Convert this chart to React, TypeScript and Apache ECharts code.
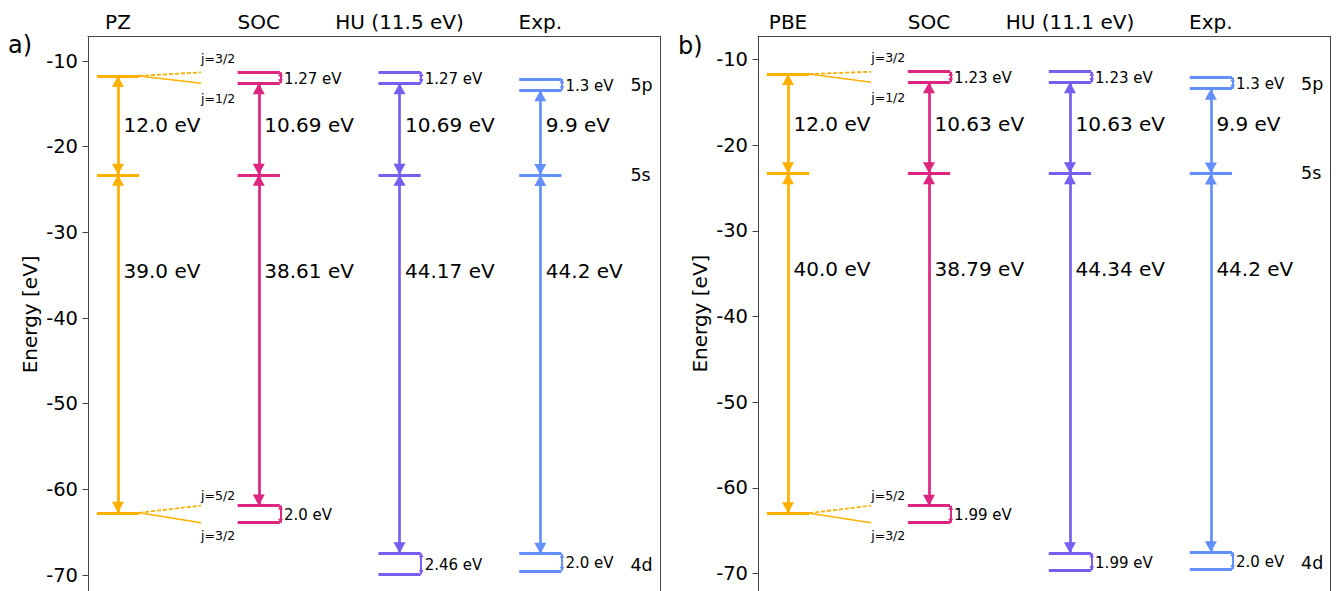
import React, { useEffect, useRef } from "react";
import * as echarts from "echarts";

// ---------- data ----------
const COLUMNS_A = ["PZ", "SOC", "HU (11.5 eV)", "Exp."];
const COLUMNS_B = ["PBE", "SOC", "HU (11.1 eV)", "Exp."];

// DFT without SOC: [5p, 5s, 4d]
const DFT_A = [-11.74, -23.28, -62.73];
const DFT_B = [-11.7, -23.28, -62.95];
// [5p j=3/2, 5p j=1/2, 5s, 4d j=5/2, 4d j=3/2]
const SOC_A = [-11.32, -12.59, -23.28, -61.89, -63.89];
const HU_A = [-11.32, -12.59, -23.28, -67.45, -69.91];
const SOC_B = [-11.42, -12.65, -23.28, -62.07, -64.06];
const HU_B = [-11.42, -12.65, -23.28, -67.62, -69.61];
const EXP = [-12.1, -13.4, -23.3, -67.5, -69.5];

const GAP_LABELS_A = [["12.0 eV", "39.0 eV"], ["10.69 eV", "38.61 eV"], ["10.69 eV", "44.17 eV"], ["9.9 eV", "44.2 eV"]];
const GAP_LABELS_B = [["12.0 eV", "40.0 eV"], ["10.63 eV", "38.79 eV"], ["10.63 eV", "44.34 eV"], ["9.9 eV", "44.2 eV"]];
const SPLIT_LABELS_A = [["1.27 eV", "2.0 eV"], ["1.27 eV", "2.46 eV"], ["1.3 eV", "2.0 eV"]];
const SPLIT_LABELS_B = [["1.23 eV", "1.99 eV"], ["1.23 eV", "1.99 eV"], ["1.3 eV", "2.0 eV"]];
const J_LABELS = ["j=3/2", "j=1/2", "j=5/2", "j=3/2"];
const ORBITALS = ["5p", "5s", "4d"];
const ORBITAL_Y = [-12.8, -23.25, -68.8];
const Y_TICKS = [-70, -60, -50, -40, -30, -20, -10];
const PANEL_LETTERS = ["a)", "b)"];

// ---------- style / layout ----------
const COLORS = ["#FFB000", "#DC267F", "#785EF0", "#648FFF"];
const FONT = "DejaVu Sans";
const HALF = 0.15;
const SPLIT_END = 0.59;
const GAP_LABEL_Y = [-17.5, -34.5];
const SPINE = "#444";
const TXT = "#000";

function buildPanel(gi: number, dft: number[], soc: number[], hu: number[], gapLabels: string[][], splitLabels: string[][]) {
  const cols = [dft, soc, hu, EXP];
  const ax = { xAxisIndex: gi, yAxisIndex: gi * 2 };
  const series: any[] = [];
  const lineSeries = (segs: number[][][], color: string, width: number, type: any = "solid", z = 2) => ({
    type: "lines",
    coordinateSystem: "cartesian2d",
    ...ax,
    polyline: false,
    silent: true,
    z,
    symbol: "none",
    lineStyle: { color, width, type, opacity: 1, cap: "butt" },
    data: segs.map((c) => ({ coords: c })),
  });
  const headSeries = (pts: number[][], color: string, size: number[], up: boolean) => ({
    type: "scatter",
    ...ax,
    symbol: "triangle",
    symbolSize: size,
    symbolRotate: up ? 0 : 180,
    symbolOffset: [0, up ? size[1] / 2 : -size[1] / 2],
    itemStyle: { color, opacity: 1 },
    silent: true,
    clip: false,
    z: 4,
    data: pts,
  });
  const textSeries = (items: any[], fontSize: number) => ({
    type: "scatter",
    ...ax,
    symbolSize: 0,
    silent: true,
    clip: false,
    z: 5,
    label: {
      show: true,
      formatter: "{b}",
      fontSize,
      fontFamily: FONT,
      color: TXT,
      opacity: 1,
      align: "left",
      verticalAlign: "middle",
    },
    data: items.map(([name, x, y, pos]) => ({ name, value: [x, y], label: { position: pos, color: TXT } })),
  });

  cols.forEach((lv, c) => {
    const color = COLORS[c];
    series.push(lineSeries(lv.map((e) => [[c - HALF, e], [c + HALF, e]]), color, 3));
    const [top, mid, bot] = c === 0 ? [lv[0], lv[1], lv[2]] : [lv[1], lv[2], lv[3]];
    series.push(lineSeries([[[c, top], [c, mid]], [[c, mid], [c, bot]]], color, 2.7));
    series.push(headSeries([[c, top], [c, mid]], color, [12, 11], true));
    series.push(headSeries([[c, mid], [c, bot]], color, [12, 11], false));
    if (c > 0) {
      const bx = c + HALF + 0.004;
      series.push(lineSeries([[[bx, lv[0]], [bx, lv[1]]], [[bx, lv[3]], [bx, lv[4]]]], color, 2));
      series.push(headSeries([[bx, lv[0]], [bx, lv[3]]], color, [5, 4], true));
      series.push(headSeries([[bx, lv[1]], [bx, lv[4]]], color, [5, 4], false));
    }
  });

  // splitting lines from the non-SOC column
  series.push(
    lineSeries(
      [
        [[HALF, dft[0]], [SPLIT_END, soc[0]]],
        [[HALF, dft[2]], [SPLIT_END, soc[3]]],
      ],
      COLORS[0],
      1.8,
      [4, 2]
    )
  );
  series.push(
    lineSeries(
      [
        [[HALF, dft[0]], [SPLIT_END, soc[1]]],
        [[HALF, dft[2]], [SPLIT_END, soc[4]]],
      ],
      COLORS[0],
      1.5
    )
  );

  // gap labels
  const gapItems: any[] = [];
  cols.forEach((_, c) => {
    gapItems.push([gapLabels[c][0], c, GAP_LABEL_Y[0], [5.5, 0]]);
    gapItems.push([gapLabels[c][1], c, GAP_LABEL_Y[1], [5.5, 0]]);
  });
  series.push(textSeries(gapItems, 20));

  // split labels
  const splitItems: any[] = [];
  for (let c = 1; c < 4; c++) {
    const lv = cols[c];
    splitItems.push([splitLabels[c - 1][0], c + HALF, (lv[0] + lv[1]) / 2, [4, 1]]);
    splitItems.push([splitLabels[c - 1][1], c + HALF, (lv[3] + lv[4]) / 2, [4, 1]]);
  }
  series.push(textSeries(splitItems, 15));

  // j labels
  series.push(
    textSeries(
      [
        [J_LABELS[0], SPLIT_END, soc[0], [0, -14]],
        [J_LABELS[1], SPLIT_END, soc[1], [0, 15]],
        [J_LABELS[2], SPLIT_END, soc[3], [0, -10]],
        [J_LABELS[3], SPLIT_END, soc[4], [0, 13]],
      ],
      12.5
    )
  );

  // orbital labels
  series.push(textSeries(ORBITALS.map((o, i) => [o, 3.64, ORBITAL_Y[i], [0, 0]]), 17.5));
  return series;
}

const GRIDS = [
  { left: 88, top: 36.5, width: 572, height: 555.7, max: -7.14, names: COLUMNS_A },
  { left: 758, top: 36.5, width: 572.7, height: 554.2, max: -7.31, names: COLUMNS_B },
];

function buildOption() {
  const grid = GRIDS.map((g) => ({ left: g.left, top: g.top, width: g.width, height: g.height, containLabel: false }));
  const xAxis = GRIDS.map((g, i) => ({
    type: "value",
    gridIndex: i,
    position: "top",
    min: -0.213,
    max: 3.85,
    axisLine: { show: true, onZero: false, lineStyle: { color: SPINE, width: 1 } },
    axisTick: { show: false },
    splitLine: { show: false },
    axisLabel: {
      show: true,
      customValues: [0, 1, 2, 3],
      formatter: (v: number) => g.names[Math.round(v)],
      fontSize: 20,
      fontFamily: FONT,
      color: TXT,
      margin: 5,
    },
  }));
  const yAxis: any[] = [];
  GRIDS.forEach((g, i) => {
    yAxis.push({
      type: "value",
      gridIndex: i,
      position: "left",
      min: -72,
      max: g.max,
      axisLine: { show: true, onZero: false, lineStyle: { color: SPINE, width: 1 } },
      axisTick: { show: true, length: 5.5, customValues: Y_TICKS, lineStyle: { color: SPINE, width: 1 } },
      axisLabel: { show: true, customValues: Y_TICKS, fontSize: 19.5, fontFamily: FONT, color: TXT, margin: 10 },
      splitLine: { show: false },
      name: "Energy [eV]",
      nameLocation: "middle",
      nameGap: 48,
      nameTextStyle: { fontSize: 20, fontFamily: FONT, color: TXT },
    });
    yAxis.push({
      type: "value",
      gridIndex: i,
      position: "right",
      min: -72,
      max: g.max,
      axisLine: { show: true, onZero: false, lineStyle: { color: SPINE, width: 1 } },
      axisTick: { show: false },
      axisLabel: { show: false },
      splitLine: { show: false },
    });
  });
  const series = [
    ...buildPanel(0, DFT_A, SOC_A, HU_A, GAP_LABELS_A, SPLIT_LABELS_A),
    ...buildPanel(1, DFT_B, SOC_B, HU_B, GAP_LABELS_B, SPLIT_LABELS_B),
  ];
  const graphic = [
    { type: "text", x: 8, y: 45, style: { text: PANEL_LETTERS[0], fontSize: 24, fontFamily: FONT, fill: TXT, verticalAlign: "middle" } },
    { type: "text", x: 678, y: 46, style: { text: PANEL_LETTERS[1], fontSize: 24, fontFamily: FONT, fill: TXT, verticalAlign: "middle" } },
  ];
  return {
    animation: false,
    backgroundColor: "#fff",
    textStyle: { fontFamily: FONT },
    grid,
    xAxis,
    yAxis,
    series,
    graphic,
  };
}

export default function App() {
  const ref = useRef<HTMLDivElement>(null);
  useEffect(() => {
    const chart = echarts.init(ref.current!, null, { renderer: "svg" });
    chart.setOption(buildOption() as any);
    return () => chart.dispose();
  }, []);
  return (
    <div style={{ position: "fixed", left: 0, top: 0, width: 1337, height: 591, overflow: "hidden", background: "#fff" }}>
      <div ref={ref} style={{ width: 1337, height: 600 }} />
    </div>
  );
}
